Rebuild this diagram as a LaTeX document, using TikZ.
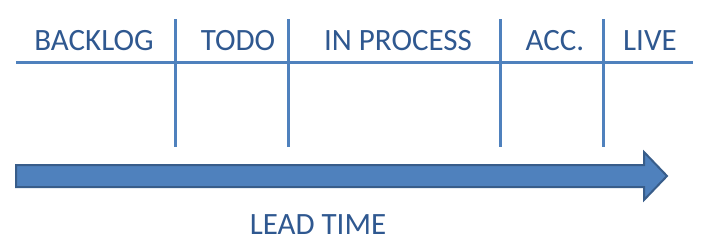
\documentclass[tikz,border=0pt]{standalone}
\usepackage{fontspec}
\setmainfont{Carlito}
\definecolor{lineblue}{HTML}{4F81BD}
\definecolor{edgeblue}{HTML}{385D8A}
\definecolor{textblue}{HTML}{2F5890}
\begin{document}
\begin{tikzpicture}[x=1pt,y=-1pt,
  lane/.style={draw=lineblue,line width=3pt},
  label/.style={text=textblue,font=\fontsize{31}{31}\selectfont,anchor=base,inner sep=0pt},
  bigarrow/.style={fill=lineblue,draw=edgeblue,line width=2pt,line join=miter}]
\useasboundingbox (0,0) rectangle (702,244);
% board header line
\coordinate (hl) at (16,62);
\coordinate (hr) at (693,62);
\draw[lane] (hl) -- (hr);
% column separators
\foreach \n/\x in {s1/175,s2/288,s3/500,s4/603}{
  \coordinate (\n t) at (\x,19);
  \coordinate (\n b) at (\x,147);
  \draw[lane] (\n t) -- (\n b);
}
% column titles
\node[label] (backlog) at (94,50) {BACKLOG};
\node[label] (todo) at (238,50) {TODO};
\node[label] (inprocess) at (398,50) {IN PROCESS};
\node[label] (acc) at (555,50) {ACC.};
\node[label] (live) at (650,50) {LIVE};
% lead time arrow
\draw[bigarrow] (16,165) -- (644,165) -- (644,152) -- (667,176) -- (644,200)
  -- (644,187) -- (16,187) -- cycle;
\node[label] (lead) at (318,234) {LEAD TIME};
\end{tikzpicture}
\end{document}
